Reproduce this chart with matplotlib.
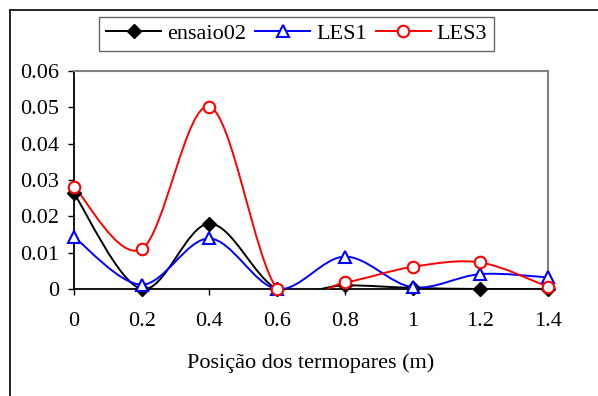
import matplotlib
matplotlib.use("Agg")
import matplotlib.pyplot as plt
from matplotlib.path import Path
from matplotlib.patches import PathPatch
from matplotlib.lines import Line2D

plt.rcParams["font.family"] = ["Liberation Serif", "DejaVu Serif"]

positions = [0.0, 0.2, 0.4, 0.6, 0.8, 1.0, 1.2, 1.4]
ensaio02 = [0.0263, 0.0, 0.018, 0.0, 0.001, 0.0003, 0.0, 0.0]
les1 = [0.0143, 0.0012, 0.0139, 0.0, 0.0089, 0.0005, 0.0041, 0.0032]
les3 = [0.0282, 0.011, 0.0502, 0.0, 0.0018, 0.0061, 0.0073, 0.0006]

x_ticks = [0, 0.2, 0.4, 0.6, 0.8, 1, 1.2, 1.4]
x_tick_labels = ["0", "0.2", "0.4", "0.6", "0.8", "1", "1.2", "1.4"]
y_ticks = [0, 0.01, 0.02, 0.03, 0.04, 0.05, 0.06]
y_tick_labels = ["0", "0.01", "0.02", "0.03", "0.04", "0.05", "0.06"]


def smooth_path(xs, ys):
    # Excel-style smoothed line: cubic Bezier through every point
    pts = list(zip(xs, ys))
    n = len(pts)
    verts = [pts[0]]
    codes = [Path.MOVETO]
    for i in range(n - 1):
        p0 = pts[i - 1] if i > 0 else pts[i]
        p1 = pts[i]
        p2 = pts[i + 1]
        p3 = pts[i + 2] if i + 2 < n else pts[i + 1]
        c1 = (p1[0] + (p2[0] - p0[0]) / 6, p1[1] + (p2[1] - p0[1]) / 6)
        c2 = (p2[0] - (p3[0] - p1[0]) / 6, p2[1] - (p3[1] - p1[1]) / 6)
        verts += [c1, c2, p2]
        codes += [Path.CURVE4] * 3
    return Path(verts, codes)


fig = plt.figure(figsize=(5.98, 3.96), dpi=100)
ax = fig.add_axes([74 / 598, 1 - 289 / 396, (548 - 74) / 598, (289 - 71) / 396])

series = [
    ("ensaio02", ensaio02, "black", dict(marker="D", markersize=7.5, markerfacecolor="black",
                                         markeredgecolor="black")),
    ("LES1", les1, "#0000ff", dict(marker="^", markersize=9, markerfacecolor="white",
                                   markeredgecolor="#0000ff", markeredgewidth=1.5)),
    ("LES3", les3, "#ff0000", dict(marker="o", markersize=8.3, markerfacecolor="white",
                                   markeredgecolor="#ff0000", markeredgewidth=1.5)),
]

handles = []
for z, (name, vals, color, mk) in enumerate(series):
    patch = PathPatch(smooth_path(positions, vals), facecolor="none", edgecolor=color,
                      linewidth=1.4, zorder=2 + z)
    ax.add_patch(patch)
    ax.plot(positions, vals, linestyle="none", zorder=5 + z, clip_on=False, **mk)
    handles.append(Line2D([], [], color=color, linewidth=1.4, label=name, **mk))

ax.set_xlim(0, 1.4)
ax.set_ylim(0, 0.06)
ax.set_xticks(x_ticks)
ax.set_xticklabels(x_tick_labels)
ax.set_yticks(y_ticks)
ax.set_yticklabels(y_tick_labels)
ax.tick_params(axis="both", labelsize=16, direction="out", length=4.5, width=1, color="black")
ax.tick_params(axis="x", pad=12)
ax.tick_params(axis="y", pad=6)

for side in ["top", "right"]:
    ax.spines[side].set_color("#808080")
    ax.spines[side].set_linewidth(1.5)
for side in ["left", "bottom"]:
    ax.spines[side].set_color("black")
    ax.spines[side].set_linewidth(1.3)

ax.set_xlabel("Posição dos termopares (m)", fontsize=16, labelpad=16)

leg = fig.legend(handles=handles, loc="center", bbox_to_anchor=(296.5 / 598, 1 - 34 / 396), ncol=3,
                 fontsize=16, frameon=True, fancybox=False, handlelength=2.5,
                 columnspacing=0.4, handletextpad=0.25, borderpad=0.3, borderaxespad=0)
leg.get_frame().set_edgecolor("#404040")
leg.get_frame().set_linewidth(1.0)

# outer chart border (only top and left visible)
fig.add_artist(Line2D([10 / 598, 10 / 598], [0, 1 - 10 / 396], transform=fig.transFigure,
                      color="black", linewidth=1.2))
fig.add_artist(Line2D([10 / 598, 1], [1 - 10 / 396, 1 - 10 / 396], transform=fig.transFigure,
                      color="black", linewidth=1.2))

fig.savefig("out.png", dpi=100)
